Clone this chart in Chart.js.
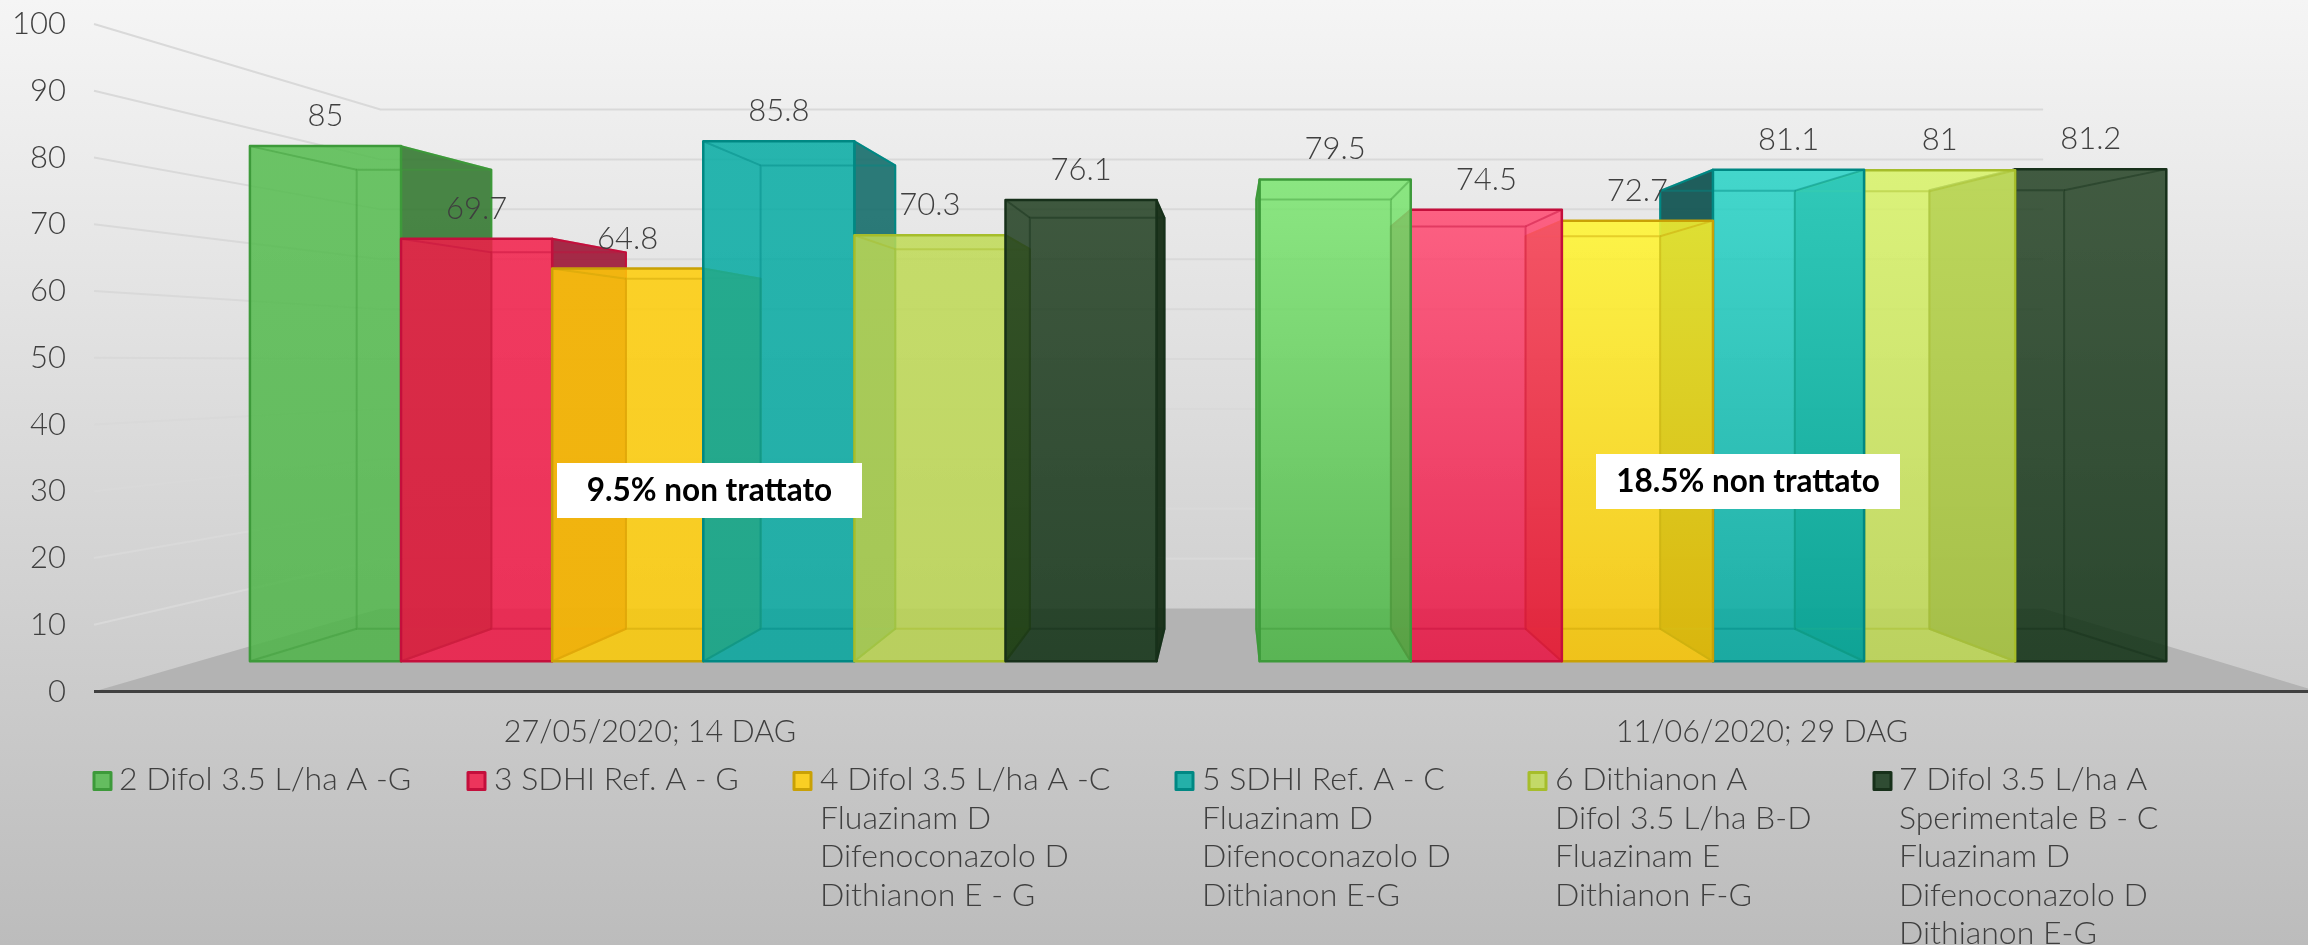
<!DOCTYPE html>
<html><head><meta charset="utf-8">
<style>
html,body{margin:0;padding:0;width:2308px;height:945px;overflow:hidden;background:linear-gradient(180deg,#f5f5f5 0%,#bcbcbc 100%);}
canvas{display:block;}
</style>
<script src="https://cdn.jsdelivr.net/npm/chart.js@4/dist/chart.umd.min.js"></script>
</head><body>
<canvas id="c" width="2320" height="945"></canvas>
<script>
const categories = ['27/05/2020; 14 DAG', '11/06/2020; 29 DAG'];
const yTicks = [0,10,20,30,40,50,60,70,80,90,100];
const series2 = [85, 79.5];
const series3 = [69.7, 74.5];
const series4 = [64.8, 72.7];
const series5 = [85.8, 81.1];
const series6 = [70.3, 81];
const series7 = [76.1, 81.2];
const legend2 = ['2 Difol 3.5 L/ha A -G'];
const legend3 = ['3 SDHI Ref. A - G'];
const legend4 = ['4 Difol 3.5 L/ha A -C','Fluazinam D','Difenoconazolo D','Dithianon E - G'];
const legend5 = ['5 SDHI Ref. A - C','Fluazinam D','Difenoconazolo D','Dithianon E-G'];
const legend6 = ['6 Dithianon A','Difol 3.5 L/ha B-D','Fluazinam E','Dithianon F-G'];
const legend7 = ['7 Difol 3.5 L/ha A','Sperimentale B - C','Fluazinam D','Difenoconazolo D','Dithianon E-G'];
const notes = ['9.5% non trattato', '18.5% non trattato'];

// styles: [group1 top, group1 bottom, group2 top, group2 bottom]
const A = 0.85;
const fills = [
 [[84,188,78],[78,180,72],[122,229,111],[74,181,68]],
 [[242,28,72],[240,22,68],[255,72,112],[234,17,65]],
 [[255,205,6],[253,203,4],[255,245,44],[250,197,0]],
 [[4,171,163],[4,166,158],[38,211,198],[0,168,158]],
 [[191,218,84],[186,212,80],[216,243,102],[189,215,81]],
 [[32,62,32],[14,47,18],[35,65,35],[14,47,18]]
];
const strokes = ['#3d9a3a','#c40f3c','#c9a106','#008883','#a6bd2b','#17301a'];
const walls = [
 ['rgba(58,124,54,.92)','rgba(70,160,66,.9)'],
 ['rgba(158,26,58,.92)','rgba(170,30,60,.9)'],
 ['rgba(214,160,0,.9)','rgba(170,150,20,.9)'],
 ['rgba(26,112,110,.92)','rgba(20,86,84,.95)'],
 ['rgba(158,188,60,.9)','rgba(90,130,90,.9)'],
 ['rgba(20,44,20,.95)','rgba(20,44,20,.95)']
];
const swatchFill = ['#64bd5f','#ec355c','#f9cf24','#24b0a9','#c3d968','#2f4c33'];

// perspective layout
const XV = 1229, YV = 363, KF = 0.908, KB = 0.809, KW = 0.7476;
const AXIS_TOP = 24, AXIS_BOTTOM = 691.5;
const P = (x,y,k) => ({x: XV + k*(x-XV), y: YV + k*(y-YV)});
const poly = (ctx, pts) => { ctx.beginPath(); pts.forEach((p,i)=> i?ctx.lineTo(p.x,p.y):ctx.moveTo(p.x,p.y)); ctx.closePath(); };
const rgba = (c,a) => `rgba(${c[0]},${c[1]},${c[2]},${a})`;
const TEXT = '#3f3f3f';
const FONT = 'Lato';
const legendLayout = [[93,119],[467,494],[793,820],[1175,1202],[1528,1555],[1873,1899]];
const legendY = 780, legendLine = 38.4;
const noteBoxes = [[557,463,305,55],[1596,454,304,55]];

const scene = {
  id: 'scene',
  afterLayout(chart) {
    const y = chart.scales.y;
    y.top = AXIS_TOP; y.bottom = AXIS_BOTTOM; y.height = AXIS_BOTTOM - AXIS_TOP;
    y.configure();
    chart.chartArea.top = AXIS_TOP; chart.chartArea.height = y.height;
  },
  beforeDatasetsDraw(chart) {
    const ctx = chart.ctx, {x:sx, y:sy} = chart.scales, area = chart.chartArea;
    ctx.save();
    const L = area.left, R = area.right, y0 = sy.getPixelForValue(0);
    // floor
    ctx.fillStyle = '#b3b3b3';
    poly(ctx, [P(L,y0,1), P(L,y0,KW), P(R,y0,KW), P(R,y0,1)]); ctx.fill();
    // walls gridlines
    ctx.strokeStyle = '#d9d9d9'; ctx.lineWidth = 2;
    yTicks.forEach(v => {
      const y = sy.getPixelForValue(v);
      if (v === 0) return;
      const a = P(L,y,1), b = P(L,y,KW), c = P(R,y,KW);
      ctx.beginPath(); ctx.moveTo(a.x,a.y); ctx.lineTo(b.x,b.y); ctx.lineTo(c.x,c.y); ctx.stroke();
    });
    // bars, farthest from the viewpoint first
    const items = [];
    chart.data.datasets.forEach((ds,di) => chart.getDatasetMeta(di).data.forEach((el,i) => items.push({el,di,i})));
    items.sort((a,b) => Math.abs(b.el.x-XV) - Math.abs(a.el.x-XV));
    items.forEach(({el,di,i}) => {
      const l = el.x-el.width/2, r = el.x+el.width/2, t = el.y, b = el.base;
      const f = {tl:P(l,t,KF),tr:P(r,t,KF),bl:P(l,b,KF),br:P(r,b,KF)};
      const k = {tl:P(l,t,KB),tr:P(r,t,KB),bl:P(l,b,KB),br:P(r,b,KB)};
      const stroke = strokes[di];
      // side wall on the viewpoint side
      ctx.fillStyle = walls[di][i];
      const right = el.x < XV;
      const wall = right ? [f.tr,k.tr,k.br,f.br] : [f.tl,k.tl,k.bl,f.bl];
      poly(ctx, wall); ctx.fill();
      ctx.strokeStyle = stroke; ctx.lineWidth = 2; ctx.lineJoin = 'round';
      ctx.stroke();
      // front face
      const g = ctx.createLinearGradient(0,f.tl.y,0,f.bl.y);
      const c = fills[di];
      g.addColorStop(0, rgba(c[i*2],A)); g.addColorStop(1, rgba(c[i*2+1],A));
      ctx.fillStyle = g;
      poly(ctx, [f.tl,f.tr,f.br,f.bl]); ctx.fill();
      // inner edges
      ctx.globalAlpha = 0.45; ctx.lineWidth = 2;
      poly(ctx, [k.tl,k.tr,k.br,k.bl]); ctx.stroke();
      [['tl'],['tr'],['bl'],['br']].forEach(([n]) => { ctx.beginPath(); ctx.moveTo(f[n].x,f[n].y); ctx.lineTo(k[n].x,k[n].y); ctx.stroke(); });
      ctx.globalAlpha = 1; ctx.lineWidth = 2.5;
      poly(ctx, [f.tl,f.tr,f.br,f.bl]); ctx.stroke();
    });
    // axis line
    ctx.strokeStyle = '#404040'; ctx.lineWidth = 3;
    ctx.beginPath(); ctx.moveTo(L,y0); ctx.lineTo(R,y0); ctx.stroke();
    // value labels
    ctx.fillStyle = TEXT; ctx.font = `300 31px ${FONT}`; ctx.textAlign = 'center'; ctx.textBaseline = 'middle';
    items.forEach(({el,di,i}) => {
      const p = P(el.x, el.y, KF);
      ctx.fillText(String(chart.data.datasets[di].data[i]), p.x, p.y-30);
    });
    // notes
    notes.forEach((txt,i) => {
      const [x,y,w,h] = noteBoxes[i];
      ctx.fillStyle = '#ffffff'; ctx.fillRect(x,y,w,h);
      ctx.fillStyle = '#000000'; ctx.font = `700 31.5px ${FONT}`;
      ctx.fillText(txt, x+w/2, y+h/2);
    });
    // legend
    ctx.textAlign = 'left';
    ctx.font = `300 32px ${FONT}`;
    chart.data.datasets.forEach((ds,di) => {
      const [sxx,tx] = legendLayout[di];
      ctx.fillStyle = swatchFill[di]; ctx.strokeStyle = strokes[di]; ctx.lineWidth = 3;
      ctx.fillRect(sxx+1,772.5,17,17); ctx.strokeRect(sxx+1,772.5,17,17);
      ctx.fillStyle = TEXT;
      ds.legendLines.forEach((line,li) => ctx.fillText(line, tx, legendY + li*legendLine));
    });
    ctx.restore();
    return false;
  }
};

const mk = (label,data,lines,i) => ({label,data,legendLines:lines,backgroundColor:swatchFill[i],borderColor:strokes[i]});
new Chart(document.getElementById('c'), {
  type: 'bar',
  plugins: [scene],
  data: { labels: categories, datasets: [
    mk(legend2[0],series2,legend2,0), mk(legend3[0],series3,legend3,1), mk(legend4[0],series4,legend4,2),
    mk(legend5[0],series5,legend5,3), mk(legend6[0],series6,legend6,4), mk(legend7[0],series7,legend7,5)
  ]},
  options: {
    responsive: false, animation: false, devicePixelRatio: 1,
    layout: { autoPadding: false, padding: {top: 24, right: 2, bottom: 0, left: 0} },
    categoryPercentage: 0.898, barPercentage: 1,
    plugins: { legend: {display:false}, tooltip:{enabled:false} },
    scales: {
      x: { grid:{display:false, drawTicks:false}, border:{display:false},
           ticks:{color:TEXT, font:{family:FONT,weight:300,size:30.5}, padding:22, maxRotation:0},
           afterFit(s){ s.height = 253.5; } },
      y: { min:0, max:100, grid:{display:false, drawTicks:false}, border:{display:false},
           ticks:{stepSize:10, color:TEXT, font:{family:FONT,weight:300,size:31}, padding:28},
           afterFit(s){ s.width = 94; } }
    }
  }
});
</script>
</body></html>
